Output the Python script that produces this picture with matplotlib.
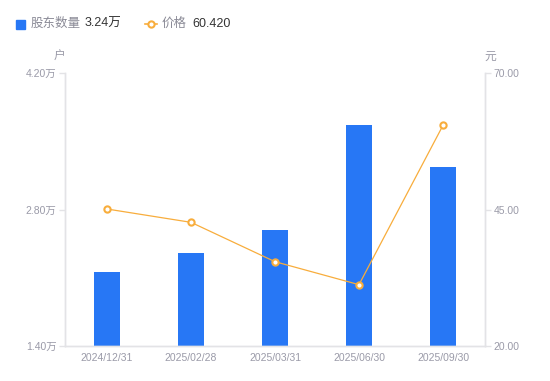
import matplotlib
matplotlib.use("Agg")
import matplotlib.pyplot as plt
from matplotlib.lines import Line2D

plt.rcParams['font.family'] = ['Liberation Sans', 'Noto Sans CJK SC', 'DejaVu Sans']

categories = ["2024/12/31", "2025/02/28", "2025/03/31", "2025/06/30", "2025/09/30"]
holders = [2.16, 2.35, 2.59, 3.67, 3.24]   # 万户
price = [45.09, 42.65, 35.44, 31.23, 60.42]  # 元
left_ticks = [1.40, 2.80, 4.20]
right_ticks = [20.00, 45.00, 70.00]

bar_color = "#2777f5"
line_color = "#f8ad3c"
tick_color = "#9a9aa8"
spine_color = "#e3e3e6"

fig = plt.figure(figsize=(5.5, 3.81), dpi=100)
ax = fig.add_axes([65/550, 35/381, 420/550, 273/381])
ax2 = ax.twinx()

x = list(range(len(categories)))
ax.bar(x, holders, width=0.3, color=bar_color, zorder=2)
ax.set_xlim(-0.5, len(categories) - 0.5)
ax.set_ylim(left_ticks[0], left_ticks[-1])
ax.set_yticks(left_ticks)
ax.set_yticklabels([f"{v:.2f}万" for v in left_ticks])
ax.set_xticks(x)
ax.set_xticklabels(categories)

ax2.plot(x, price, color=line_color, lw=0.9, marker='o', ms=4.5,
         mfc='white', mec=line_color, mew=1.5, zorder=3)
ax2.set_ylim(right_ticks[0], right_ticks[-1])
ax2.set_yticks(right_ticks)
ax2.set_yticklabels([f"{v:.2f}" for v in right_ticks])

for a in (ax, ax2):
    for s in a.spines.values():
        s.set_color(spine_color)
        s.set_linewidth(1.0)
    a.spines['top'].set_visible(False)
    a.tick_params(axis='both', colors=spine_color, labelcolor=tick_color,
                  labelsize=7.5, length=4, width=1.0, pad=2)
ax.tick_params(axis='x', length=0, pad=5)

fig.text(60/550, 1 - 57/381, "户", color=tick_color, fontsize=8.5, ha='center', va='center')
fig.text(490/550, 1 - 57/381, "元", color=tick_color, fontsize=8.5, ha='center', va='center')

# legend
ly = 1 - 24/381
fig.patches.append(plt.Rectangle((16/550, ly - 4.5/381), 9/550, 9/381, transform=fig.transFigure,
                                 color=bar_color, figure=fig))
fig.text(31/550, ly, "股东数量", color="#8a8a96", fontsize=9, va='center', ha='left')
fig.text(85/550, ly, f"{holders[-1]:.2f}万", color="#333333", fontsize=9, va='center', ha='left')
fig.lines.append(Line2D([145/550, 157/550], [ly, ly], transform=fig.transFigure, color=line_color,
                        lw=1.2, figure=fig))
fig.lines.append(Line2D([151/550], [ly], transform=fig.transFigure, color=line_color, lw=0,
                        marker='o', ms=4.5, mfc='white', mec=line_color, mew=1.5, figure=fig))
fig.text(162/550, ly, "价格", color="#8a8a96", fontsize=9, va='center', ha='left')
fig.text(192/550, ly, f"{price[-1]:.3f}", color="#333333", fontsize=9, va='center', ha='left')

fig.savefig("out.png", dpi=100)
